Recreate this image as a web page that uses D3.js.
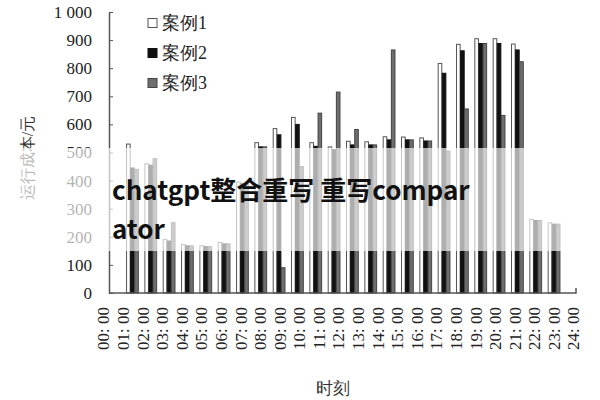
<!DOCTYPE html>
<html>
<head>
<meta charset="utf-8">
<script src="https://cdn.jsdelivr.net/npm/d3@7"></script>
<style>
  body { margin: 0; background: #fff; }
  svg { display: block; }
</style>
</head>
<body>
<svg width="600" height="400"></svg>
<script>
// data
const hours = d3.range(24);
const timeLabels = d3.range(25).map(h => String(h).padStart(2, "0") + ": 00");
const seriesNames = ["案例1", "案例2", "案例3"];
const case1 = [530, 460, 190, 172, 168, 180, 395, 535, 585, 625, 535, 520, 540, 538, 556, 555, 552, 817, 885, 905, 905, 886, 262, 250];
const case2 = [445, 455, 185, 168, 165, 175, 390, 520, 563, 600, 522, 510, 527, 527, 545, 545, 541, 782, 862, 888, 888, 865, 258, 245];
const case3 = [440, 478, 250, 168, 165, 175, 390, 520, 90, 450, 640, 715, 582, 527, 865, 545, 541, 505, 655, 888, 632, 823, 258, 245];
const yTicks = d3.range(0, 1001, 100);

const fills = ["#ffffff", "#111111", "#6e6e6e"];
const strokes = ["#555555", "#111111", "#444444"];
const serif = "'Liberation Serif', serif";

const svg = d3.select("svg");

const y = d3.scaleLinear().domain([0, 1000]).range([293, 12]);
const xTime = d3.scaleLinear().domain([0, 24]).range([103, 573]);
const xGroup = d3.scaleBand().domain(hours).range([120, 566]).padding(0.33);
const xSub = d3.scaleBand().domain([0, 1, 2]).range([0, xGroup.bandwidth()]);

const fmt = d3.formatLocale({ decimal: ".", thousands: " ", grouping: [3], currency: ["", ""] }).format(",");

// bars
const rows = hours.map(h => ({ h, vals: [case1[h], case2[h], case3[h]] }));
const groups = svg.append("g").selectAll("g")
  .data(rows)
  .join("g")
  .attr("transform", d => `translate(${xGroup(d.h)},0)`);

groups.selectAll("rect")
  .data(d => d.vals.map((v, i) => ({ v, i })))
  .join("rect")
  .attr("x", d => xSub(d.i) + 0.5)
  .attr("y", d => y(d.v))
  .attr("width", xSub.bandwidth() - 0.5)
  .attr("height", d => y(0) - y(d.v))
  .attr("fill", d => fills[d.i])
  .attr("stroke", d => strokes[d.i])
  .attr("stroke-width", 1);

// y axis
const yAxis = svg.append("g")
  .attr("transform", "translate(109,0)")
  .call(d3.axisLeft(y).tickValues(yTicks).tickFormat(fmt).tickSizeInner(-4).tickSizeOuter(0).tickPadding(17));
yAxis.attr("font-family", serif).attr("font-size", 17);
yAxis.select(".domain").attr("stroke", "#555").attr("stroke-width", 1.5);
yAxis.selectAll(".tick line").attr("stroke", "#555");
yAxis.selectAll("text").attr("fill", "#222");

// x axis line
svg.append("path")
  .attr("d", `M109,${y(0)}H576V${y(0) - 5}`)
  .attr("fill", "none")
  .attr("stroke", "#555")
  .attr("stroke-width", 1.5);

const xAxis = svg.append("g")
  .attr("transform", `translate(0,${y(0)})`)
  .call(d3.axisBottom(xTime).tickValues(d3.range(25)).tickFormat(h => timeLabels[h]).tickSize(0));
xAxis.attr("font-family", serif).attr("font-size", 17);
xAxis.select(".domain").remove();
xAxis.selectAll("text")
  .attr("fill", "#222")
  .attr("transform", "rotate(-90)")
  .attr("x", -14)
  .attr("y", 0)
  .attr("dy", "0.35em")
  .attr("text-anchor", "end");

// axis titles
svg.append("text")
  .attr("transform", "translate(27,158) rotate(-90)")
  .attr("text-anchor", "middle")
  .attr("dy", "0.35em")
  .attr("font-family", serif)
  .attr("font-size", 16)
  .attr("fill", "#333")
  .text("运行成本/元");

svg.append("text")
  .attr("x", 333)
  .attr("y", 394)
  .attr("text-anchor", "middle")
  .attr("font-family", serif)
  .attr("font-size", 17)
  .attr("fill", "#333")
  .text("时刻");

// legend
const legend = svg.append("g")
  .selectAll("g")
  .data(seriesNames)
  .join("g")
  .attr("transform", (d, i) => `translate(148,${23 + i * 30})`);
legend.append("rect")
  .attr("x", 0).attr("y", -4.5)
  .attr("width", 9).attr("height", 9)
  .attr("fill", (d, i) => fills[i])
  .attr("stroke", (d, i) => strokes[i]);
legend.append("text")
  .attr("x", 14)
  .attr("dy", "0.36em")
  .attr("font-family", serif)
  .attr("font-size", 18)
  .attr("fill", "#222")
  .text(d => d);

// washed band with overlay text
svg.append("rect")
  .attr("x", 0).attr("y", 148)
  .attr("width", 600).attr("height", 103)
  .attr("fill", "#fff")
  .attr("fill-opacity", 0.66);

const note = svg.append("text")
  .attr("font-family", "'Noto Sans CJK SC', 'Noto Sans', sans-serif")
  .attr("font-weight", 700)
  .attr("font-size", 26)
  .attr("fill", "#111");
note.append("tspan").attr("x", 112).attr("y", 200).text("chatgpt整合重写 重写compar");
note.append("tspan").attr("x", 112).attr("y", 239).text("ator");
</script>
</body>
</html>
